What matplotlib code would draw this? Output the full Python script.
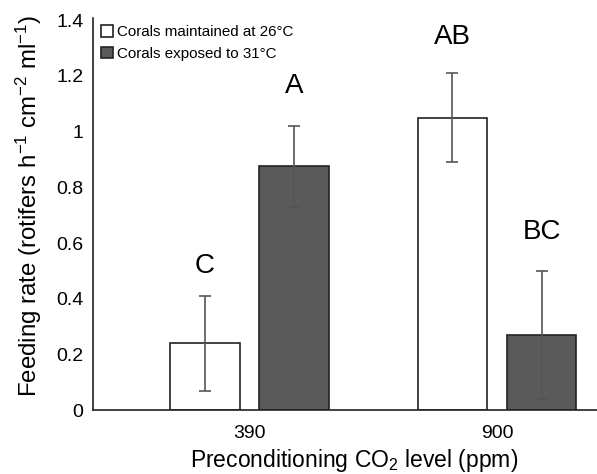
import matplotlib
matplotlib.use('Agg')
from matplotlib import pyplot as plt
from matplotlib.ticker import FuncFormatter
import numpy as np

plt.rcParams['font.family'] = ['Liberation Sans', 'DejaVu Sans']
plt.rcParams['mathtext.fontset'] = 'custom'
plt.rcParams['mathtext.rm'] = 'Liberation Sans'
plt.rcParams['mathtext.it'] = 'Liberation Sans:italic'

co2_levels = ['390', '900']
temp_labels = ['Corals maintained at 26°C', 'Corals exposed to 31°C']
feeding_26 = [0.24, 1.05]
err_26 = [0.17, 0.16]
feeding_31 = [0.875, 0.27]
err_31 = [0.145, 0.23]
letters_26 = ['C', 'AB']
letters_31 = ['A', 'BC']
letter_y_26 = [0.517, 1.339]
letter_y_31 = [1.163, 0.639]

fig = plt.figure(figsize=(5.97, 4.74), dpi=100)
ax = fig.add_axes([0.156, 0.135, 0.844, 0.828])

x = np.arange(len(co2_levels))
w = 0.28
off = 0.18
ekw = dict(ecolor='#555555', elinewidth=1.2, capsize=4.5, capthick=1.2)
ax.bar(x - off, feeding_26, w, yerr=err_26, color='white', edgecolor='#222222',
       linewidth=1.2, label=temp_labels[0], error_kw=ekw, zorder=2)
ax.bar(x + off, feeding_31, w, yerr=err_31, color='#5a5a5a', edgecolor='#222222',
       linewidth=1.2, label=temp_labels[1], error_kw=ekw, zorder=2)

for i in range(len(co2_levels)):
    ax.text(x[i] - off, letter_y_26[i], letters_26[i], ha='center', va='center', fontsize=20)
    ax.text(x[i] + off, letter_y_31[i], letters_31[i], ha='center', va='center', fontsize=20)

ax.set_xlim(-0.632, 1.404)
ax.set_ylim(0, 1.41)
ax.set_yticks(np.arange(0, 1.41, 0.2))
ax.yaxis.set_major_formatter(FuncFormatter(lambda v, p: f'{v:g}'))
ax.set_xticks(x)
ax.set_xticklabels(co2_levels)
ax.tick_params(axis='y', length=0, labelsize=14, pad=7)
ax.tick_params(axis='x', length=0, labelsize=14, pad=11)
for s in ['top', 'right']:
    ax.spines[s].set_visible(False)
for s in ['left', 'bottom']:
    ax.spines[s].set_linewidth(1.2)
    ax.spines[s].set_color('#222222')

ax.set_ylabel('Feeding rate (rotifers h$^{-1}$ cm$^{-2}$ ml$^{-1}$)', fontsize=17.3)
ax.yaxis.set_label_coords(-0.097, 0.52)
ax.set_xlabel('Preconditioning CO$_2$ level (ppm)', fontsize=16.5)
ax.xaxis.set_label_coords(0.518, -0.093)

ax.legend(loc='upper left', bbox_to_anchor=(0.0, 1.0), frameon=False, fontsize=10.9,
          handlelength=0.8, handleheight=0.8, handletextpad=0.3, labelspacing=0.5,
          borderaxespad=0.2, borderpad=0.3)

fig.savefig('out.png', dpi=100)
